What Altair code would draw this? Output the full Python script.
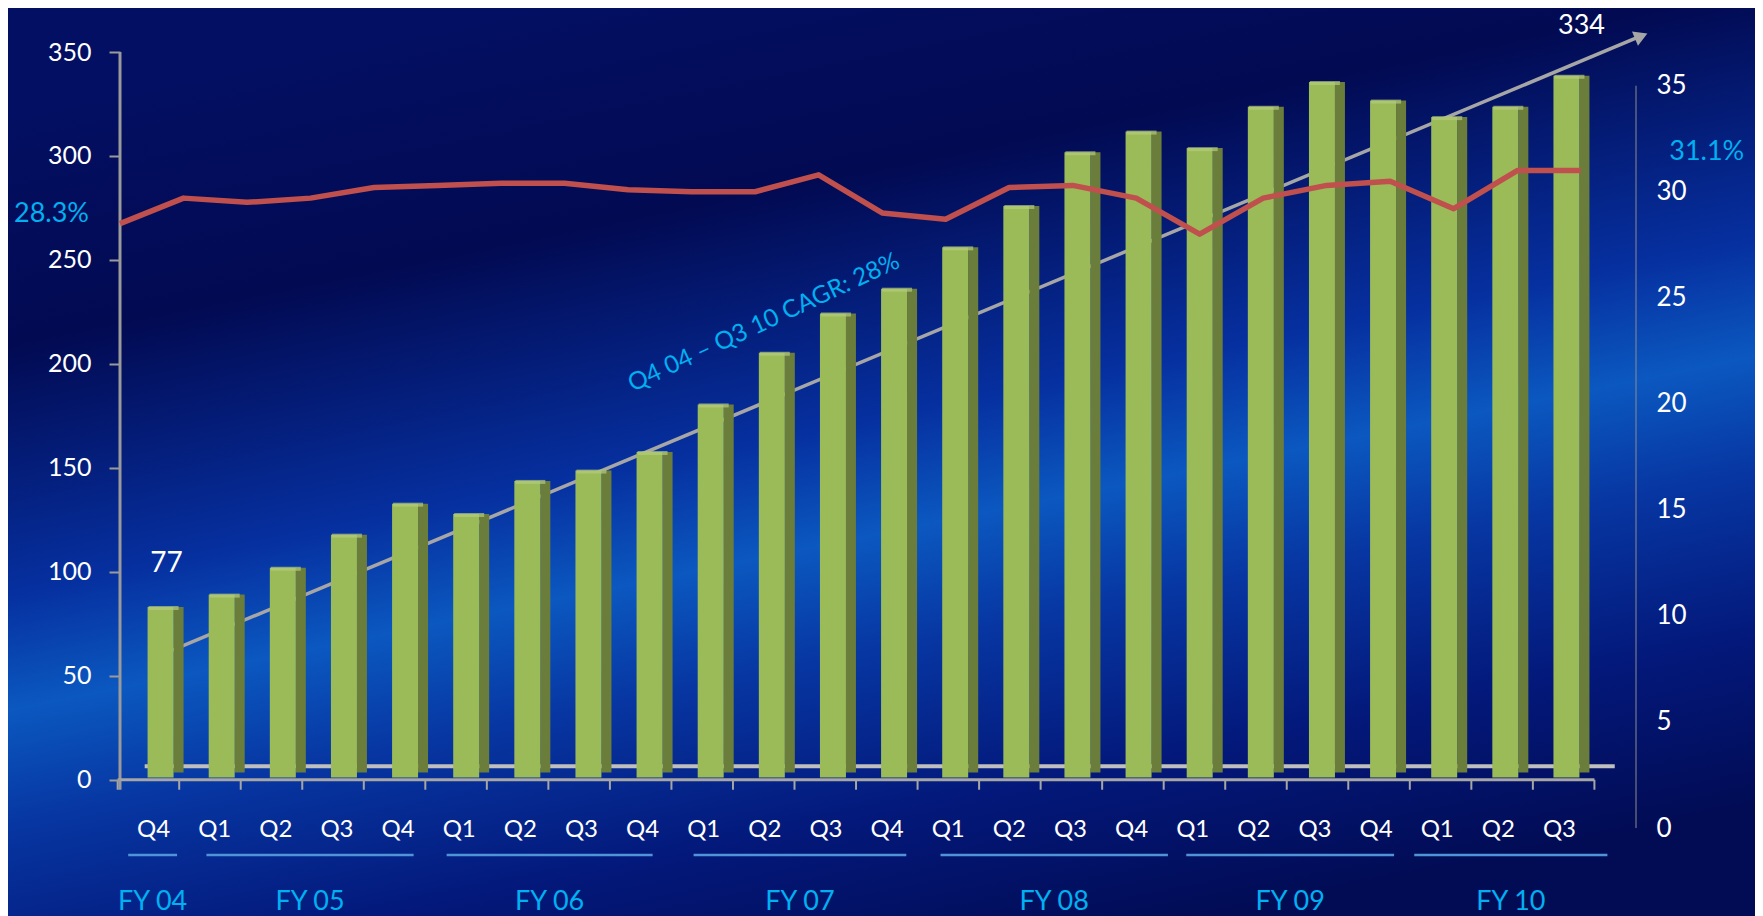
import altair as alt
import pandas as pd

# ---------------- data ----------------
quarters = ["Q4", "Q1", "Q2", "Q3", "Q4", "Q1", "Q2", "Q3", "Q4", "Q1", "Q2", "Q3",
            "Q4", "Q1", "Q2", "Q3", "Q4", "Q1", "Q2", "Q3", "Q4", "Q1", "Q2", "Q3"]
fiscal_year = ["FY 04"] + ["FY 05"] * 4 + ["FY 06"] * 4 + ["FY 07"] * 4 + \
              ["FY 08"] * 4 + ["FY 09"] * 4 + ["FY 10"] * 3
revenue = [77, 83, 96, 112, 127, 122, 138, 143, 152, 175, 200, 219,
           231, 251, 271, 297, 307, 299, 319, 331, 322, 314, 319, 334]
margin = [28.5, 29.7, 29.5, 29.7, 30.2, 30.3, 30.4, 30.4, 30.1, 30.0, 30.0, 30.8,
          29.0, 28.7, 30.2, 30.3, 29.7, 28.0, 29.7, 30.3, 30.5, 29.2, 31.0, 31.0]
left_ticks = [0, 50, 100, 150, 200, 250, 300, 350]
right_ticks = [0, 5, 10, 15, 20, 25, 30, 35]
fy_names = ["FY 04", "FY 05", "FY 06", "FY 07", "FY 08", "FY 09", "FY 10"]
fy_start = [-0.53, 0.75, 4.68, 8.72, 12.76, 16.78, 20.51]
fy_end = [0.27, 4.14, 8.05, 12.20, 16.48, 20.18, 23.67]
trend_x = [0, 24.14]
trend_y = [59.0, 357.7]
margin_labels = ["28.3%", "31.1%"]
cagr_label = "Q4 04 \u2013 Q3 10 CAGR: 28%"

# ---------------- tables ----------------
df = pd.DataFrame({"idx": list(range(len(quarters))), "quarter": quarters,
                   "fy": fiscal_year, "revenue": revenue, "margin": margin})
tick_pos = [i - 0.62 for i in range(len(quarters) + 1)]
df_ticks = pd.DataFrame({"pos": tick_pos, "top": 0.0, "bottom": -4.8})
df_front = pd.DataFrame({"x0": [tick_pos[0]], "x1": [tick_pos[-1]], "y": [0.0]})
df_laxis = pd.DataFrame({"lo": [-4.8], "hi": [left_ticks[-1]]})
df_raxis = pd.DataFrame({"lo": [right_ticks[0]], "hi": [right_ticks[-1]]})
df_trend = pd.DataFrame({"x": trend_x, "y": trend_y})
df_fy = pd.DataFrame({"fy": fy_names, "start": fy_start, "end": fy_end})
df_one = pd.DataFrame({"a": [0]})

# ---------------- geometry / style ----------------
W, H = 1516, 776
FONT = "Lato"
CYAN = "#00b0f0"
GRAY = "#9a9a9a"

X_BAR = alt.Scale(domain=[-0.582, 24.056], nice=False, zero=False)
X_RED = alt.Scale(domain=[0, 23.87], nice=False, zero=False)
Y_LEFT = alt.Scale(domain=[-23.2, 350], nice=False, zero=False)
Y_BAR = alt.Scale(domain=[-29.9, 345.5], nice=False, zero=False)
Y_RIGHT = alt.Scale(domain=[0, 36.59], nice=False, zero=False)

left_axis = alt.Axis(orient="left", values=left_ticks, tickSize=11, tickWidth=2,
                     tickColor=GRAY, domain=False, grid=False, labelPadding=18,
                     labelColor="white", labelFont=FONT, labelFontSize=25, title=None,
                     zindex=2)
label_js = "[" + ",".join("'%s'" % q for q in quarters) + "][datum.value]"
bottom_axis = alt.Axis(orient="bottom", values=list(range(len(quarters))), ticks=False,
                       tickSize=0, domain=False, grid=False, labelExpr=label_js,
                       labelBaseline="middle", labelPadding=1, labelOffset=-7.5,
                       labelFlush=False, labelOverlap=False, labelBound=False,
                       labelColor="white", labelFont=FONT, labelFontSize=24, title=None,
                       zindex=2)
right_axis = alt.Axis(orient="right", values=right_ticks, ticks=False, tickSize=0,
                      domain=False, grid=False, labelPadding=20, labelAlign="left",
                      labelColor="white", labelFont=FONT, labelFontSize=26, title=None,
                      zindex=2)

# ---------------- background ----------------
bg = alt.Chart(df_one).mark_rect(
    color=alt.LinearGradient(
        gradient="linear", x1=0.3, y1=0, x2=0.69, y2=1,
        stops=[alt.GradientStop(color="#030f62", offset=0),
               alt.GradientStop(color="#020a52", offset=0.22),
               alt.GradientStop(color="#0630a0", offset=0.46),
               alt.GradientStop(color="#0b58c0", offset=0.57),
               alt.GradientStop(color="#0736a2", offset=0.68),
               alt.GradientStop(color="#03187a", offset=0.84),
               alt.GradientStop(color="#020c55", offset=1)])
).encode(x=alt.value(-112), x2=alt.value(W + 119), y=alt.value(-44), y2=alt.value(H + 88))

# ---------------- left-axis group ----------------
l_axis_line = alt.Chart(df_laxis).mark_rule(color=GRAY, strokeWidth=3).encode(
    x=alt.value(0), y=alt.Y("lo:Q", scale=Y_LEFT, axis=left_axis), y2="hi:Q")
front_line = alt.Chart(df_front).mark_rule(color="#a6a6a6", strokeWidth=3).encode(
    x=alt.X("x0:Q", scale=X_BAR, axis=None), x2="x1:Q",
    y=alt.Y("y:Q", scale=Y_LEFT, axis=left_axis))
front_ticks = alt.Chart(df_ticks).mark_rule(color="#a6a6a6", strokeWidth=2).encode(
    x=alt.X("pos:Q", scale=X_BAR, axis=None),
    y=alt.Y("top:Q", scale=Y_LEFT, axis=left_axis), y2="bottom:Q")
trend = alt.Chart(df_trend).mark_line(color="#a6a6a6", strokeWidth=3.5).encode(
    x=alt.X("x:Q", scale=X_BAR, axis=None),
    y=alt.Y("y:Q", scale=Y_LEFT, axis=left_axis))
arrow = alt.Chart(df_trend.tail(1)).mark_point(
    shape="triangle-right", filled=True, opacity=1, size=240, angle=337.3,
    color="#a6a6a6").encode(
    x=alt.X("x:Q", scale=X_BAR, axis=None),
    y=alt.Y("y:Q", scale=Y_LEFT, axis=left_axis))
left_group = alt.layer(l_axis_line, front_line, front_ticks, trend, arrow)

# ---------------- bar group ----------------
base = alt.Chart(df)
xb = alt.X("idx:Q", scale=X_BAR, axis=bottom_axis)
floor = alt.Chart(df_one).mark_rule(color="#bfbfbf", strokeWidth=4).encode(
    x=alt.datum(-0.26, scale=X_BAR, axis=bottom_axis), x2=alt.datum(23.79),
    y=alt.datum(0, scale=Y_BAR, axis=None))
side = base.mark_bar(width=10, xOffset=18, color="#6b7d3a", orient="vertical").encode(
    x=xb, y=alt.Y("revenue:Q", scale=Y_BAR, axis=None), y2=alt.datum(-3))
face = base.mark_bar(width=26, color="#9bbb59", orient="vertical").encode(
    x=xb, y=alt.Y("revenue:Q", scale=Y_BAR, axis=None), y2=alt.datum(-5.5))
cap = base.mark_tick(orient="horizontal", size=30, thickness=4, xOffset=3, yOffset=1,
                     color="#b3ca7c").encode(
    x=xb, y=alt.Y("revenue:Q", scale=Y_BAR, axis=None))
first_lbl = base.transform_filter("datum.idx == 0").mark_text(
    font=FONT, fontSize=28, color="white", dx=6, dy=-43, baseline="middle").encode(
    x=xb, y=alt.Y("revenue:Q", scale=Y_BAR, axis=None), text="revenue:Q")
last_lbl = base.transform_filter("datum.idx == %d" % (len(quarters) - 1)).mark_text(
    font=FONT, fontSize=27, color="white", dx=15, dy=-50, baseline="middle").encode(
    x=xb, y=alt.Y("revenue:Q", scale=Y_BAR, axis=None), text="revenue:Q")
fy_rules = alt.Chart(df_fy).mark_rule(color="#4f93d8", strokeWidth=2.5).encode(
    x=alt.X("start:Q", scale=X_BAR, axis=bottom_axis), x2="end:Q", y=alt.value(803))
fy_text = alt.Chart(df_fy).transform_calculate(mid="(datum.start + datum.end) / 2").mark_text(
    font=FONT, fontSize=27, color=CYAN, baseline="middle").encode(
    x=alt.X("mid:Q", scale=X_BAR, axis=bottom_axis), y=alt.value(850), text="fy:N")
bar_group = alt.layer(floor, side, face, cap, first_lbl, last_lbl, fy_rules, fy_text)

# ---------------- right-axis (margin) group ----------------
r_axis_line = alt.Chart(df_raxis).mark_rule(color="#8c8c8c", strokeWidth=1).encode(
    x=alt.value(W), y=alt.Y("lo:Q", scale=Y_RIGHT, axis=right_axis), y2="hi:Q")
red = alt.Chart(df).mark_line(color="#c0504d", strokeWidth=5.5, strokeJoin="round").encode(
    x=alt.X("idx:Q", scale=X_RED, axis=None),
    y=alt.Y("margin:Q", scale=Y_RIGHT, axis=right_axis))
m_first = alt.Chart(df).transform_filter("datum.idx == 0").transform_calculate(
    lbl="'%s'" % margin_labels[0]).mark_text(
    font=FONT, fontSize=27, color=CYAN, align="right", baseline="middle", dx=-31, dy=-10).encode(
    x=alt.X("idx:Q", scale=X_RED, axis=None),
    y=alt.Y("margin:Q", scale=Y_RIGHT, axis=right_axis), text="lbl:N")
m_last = alt.Chart(df).transform_filter("datum.idx == %d" % (len(quarters) - 1)).transform_calculate(
    lbl="'%s'" % margin_labels[1]).mark_text(
    font=FONT, fontSize=27, color=CYAN, align="center", baseline="middle", dx=126, dy=-19).encode(
    x=alt.X("idx:Q", scale=X_RED, axis=None),
    y=alt.Y("margin:Q", scale=Y_RIGHT, axis=right_axis), text="lbl:N")
right_group = alt.layer(r_axis_line, red, m_first, m_last)

# ---------------- CAGR annotation ----------------
cagr = alt.Chart(df_one).mark_text(
    text=cagr_label, font=FONT, fontSize=24.5, color=CYAN, angle=335,
    align="center", baseline="middle").encode(x=alt.value(644), y=alt.value(271))

chart = alt.layer(bg, left_group, bar_group, right_group, cagr).resolve_scale(
    x="independent", y="independent"
).properties(
    width=W, height=H,
    padding={"left": 112, "top": 44, "right": 119, "bottom": 88},
    autosize=alt.AutoSizeParams(type="none"),
).configure(background="#031468").configure_view(strokeWidth=0)

chart.save("out.html", embed_options={"renderer": "svg", "actions": False})
